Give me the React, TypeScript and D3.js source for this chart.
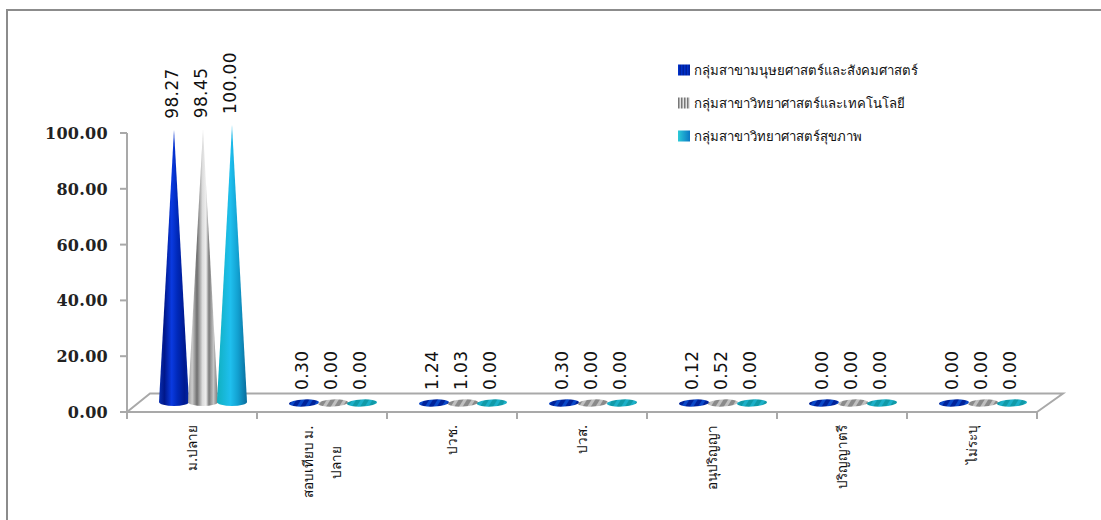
import React from "react";
import * as d3 from "d3";

const categories = ["ม.ปลาย", "สอบเทียบ ม.ปลาย", "ปวช.", "ปวส.", "อนุปริญญา", "ปริญญาตรี", "ไม่ระบุ"];
const seriesNames = ["กลุ่มสาขามนุษยศาสตร์และสังคมศาสตร์", "กลุ่มสาขาวิทยาศาสตร์และเทคโนโลยี", "กลุ่มสาขาวิทยาศาสตร์สุขภาพ"];
const humanities = [98.27, 0.3, 1.24, 0.3, 0.12, 0, 0];
const science = [98.45, 0, 1.03, 0, 0.52, 0, 0];
const health = [100, 0, 0, 0, 0, 0, 0];
const yTicks = [0, 20, 40, 60, 80, 100];
const series = [humanities, science, health];
const coneStops: [number, string][][] = [
  [[0, "#0a2fb0"], [0.18, "#00178a"], [0.42, "#0a3ae0"], [0.62, "#0028b8"], [0.85, "#001a90"], [1, "#0024a8"]],
  [[0, "#999999"], [0.14, "#cccccc"], [0.3, "#6e6e6e"], [0.48, "#dcdcdc"], [0.6, "#eeeeee"], [0.7, "#7a7a7a"], [0.85, "#c4c4c4"], [1, "#747474"]],
  [[0, "#10b0c0"], [0.45, "#1fbfee"], [0.7, "#12a0d0"], [1, "#0a6c9c"]],
];
const discColors = [
  ["#00239a", "#0a48c8"],
  ["#8a8a8a", "#c0c0c0"],
  ["#109aa8", "#1cb0c8"],
];

const NUM = "'DejaVu Sans', sans-serif";
const TICK = "'DejaVu Serif', serif";
const THAI = "'Noto Sans', 'DejaVu Sans', sans-serif";
const AXIS = "#a9a9a9";

export default function App() {
  const y = d3.scaleLinear().domain([0, 100]).range([412, 133]);
  const x = d3.scaleBand<number>().domain(d3.range(categories.length)).range([127, 1037]);
  const off = d3.scalePoint<number>().domain([0, 1, 2]).range([-18, 40]);
  const unit = y(0) - y(1);
  const baseY = 402;
  const tipOrigin = 404;
  return (
    <svg width={1101} height={520} style={{ position: "absolute", left: 0, top: 0, background: "#fff" }}>
      <defs>
        {coneStops.map((stops, i) => (
          <linearGradient key={i} id={`cone${i}`} x1="0" x2="1" y1="0" y2="0">
            {stops.map(([o, c]) => (
              <stop key={o} offset={o} stopColor={c} />
            ))}
          </linearGradient>
        ))}
        {discColors.map((p, i) => (
          <pattern key={i} id={`disc${i}`} width={7} height={7} patternUnits="userSpaceOnUse" patternTransform="rotate(35)">
            <rect width={7} height={7} fill={p[0]} />
            <rect width={3} height={7} fill={p[1]} />
          </pattern>
        ))}
        <linearGradient id="leg2" x1="0" x2="1" y1="0" y2="0">
          <stop offset="0" stopColor="#2ccbd8" />
          <stop offset="1" stopColor="#0a78c4" />
        </linearGradient>
        <pattern id="leg0" width={3} height={3} patternUnits="userSpaceOnUse">
          <rect width={3} height={3} fill="#00209c" />
          <rect width={1.5} height={3} fill="#0030c8" />
        </pattern>
        <pattern id="leg1" width={3} height={3} patternUnits="userSpaceOnUse">
          <rect width={3} height={3} fill="#e4e4e4" />
          <rect width={1.5} height={3} fill="#777" />
        </pattern>
      </defs>

      <path d="M7,520 V10 H1101" fill="none" stroke="#8c8c8c" strokeWidth={2} />

      {/* floor */}
      <path d="M127,412 L150,393.5 H1063 L1037,412" fill="none" stroke={AXIS} strokeWidth={2} />
      <line x1={127} x2={127} y1={y(100)} y2={y(0)} stroke={AXIS} strokeWidth={2} />
      <line x1={127} x2={1037} y1={y(0)} y2={y(0)} stroke={AXIS} strokeWidth={2} />
      {yTicks.map((t) => (
        <g key={t}>
          <line x1={120} x2={127} y1={y(t)} y2={y(t)} stroke={AXIS} strokeWidth={2} />
          <text x={108} y={y(t) + 6} textAnchor="end" fontFamily={TICK} fontWeight={700} fontSize={16} fill="#222" letterSpacing={0.3}>
            {t.toFixed(2)}
          </text>
        </g>
      ))}
      {d3.range(categories.length + 1).map((i) => {
        const tx = 127 + i * x.step();
        return <line key={i} x1={tx} x2={tx} y1={412} y2={419} stroke={AXIS} strokeWidth={2} />;
      })}

      {/* cones */}
      {categories.map((_, c) =>
        series.map((s, i) => {
          const v = s[c];
          const cx = x(c)! + x.bandwidth() / 2 + off(i)!;
          const tall = v > 50;
          const rx = 15;
          const ry = 4;
          const tip = tipOrigin - v * unit;
          return (
            <g key={i}>
              {tall ? (
                <path
                  d={`M${cx - rx},${baseY} L${cx},${tip} L${cx + rx},${baseY} A${rx},${ry} 0 0 1 ${cx - rx},${baseY} Z`}
                  fill={`url(#cone${i})`}
                />
              ) : (
                <ellipse cx={cx} cy={baseY + 1} rx={rx} ry={3.6} fill={`url(#disc${i})`} transform={`rotate(-3 ${cx} ${baseY + 1})`} />
              )}
              <text
                transform={`translate(${cx + 4},${tall ? tip - 11 : 390}) rotate(-90)`}
                fontFamily={NUM}
                fontSize={17}
                fill="#111"
                letterSpacing={0.4}
              >
                {v.toFixed(2)}
              </text>
            </g>
          );
        })
      )}

      {/* category labels */}
      {categories.map((c, i) => {
        const cx = x(i)! + x.bandwidth() / 2;
        if (c === "สอบเทียบ ม.ปลาย") {
          return (
            <g key={c}>
              <text transform={`translate(${cx - 9},462) rotate(-90)`} textAnchor="middle" fontFamily={THAI} fontSize={13.5} fill="#111">
                สอบเทียบ ม.
              </text>
              <text transform={`translate(${cx + 19},462) rotate(-90)`} textAnchor="middle" fontFamily={THAI} fontSize={13.5} fill="#111">
                ปลาย
              </text>
            </g>
          );
        }
        return (
          <text key={c} transform={`translate(${cx + 5},425) rotate(-90)`} textAnchor="end" fontFamily={THAI} fontSize={13.5} fill="#111">
            {c}
          </text>
        );
      })}

      {/* legend */}
      {seriesNames.map((n, i) => {
        const ly = 70 + i * 33;
        return (
          <g key={n}>
            <rect x={678} y={ly - 5.5} width={12} height={11} fill={`url(#leg${i})`} />
            <text x={694} y={ly + 5} fontFamily={THAI} fontSize={13.2} fill="#111">
              {n}
            </text>
          </g>
        );
      })}
    </svg>
  );
}
